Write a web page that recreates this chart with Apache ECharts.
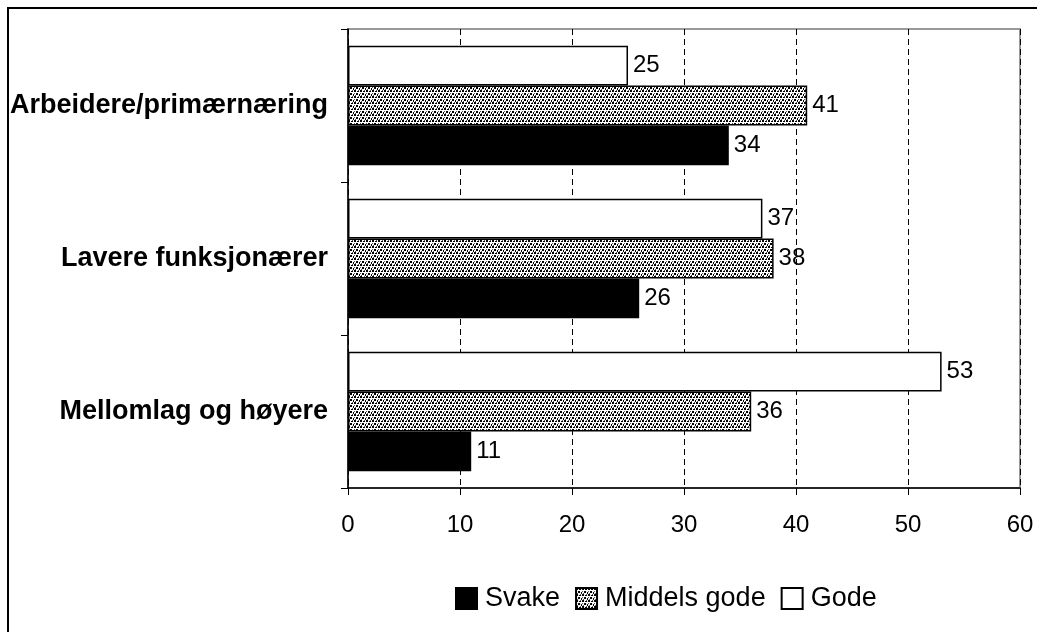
<!DOCTYPE html>
<html>
<head>
<meta charset="utf-8">
<script src="https://cdn.jsdelivr.net/npm/echarts@6/dist/echarts.min.js"></script>
<style>
    html, body { margin: 0; padding: 0; background: #fff; }
    #chart { width: 1037px; height: 632px; }
</style>
</head>
<body>
<div id="chart"></div>
<script>
// kategorier (nederst til øverst, slik ECharts tegner y-aksen)
var categories = ['Mellomlag og høyere', 'Lavere funksjonærer', 'Arbeidere/primærnæring'];
var seriesNames = ['Svake', 'Middels gode', 'Gode'];
var svake = [11, 26, 34];
var middels = [36, 38, 41];
var gode = [53, 37, 25];

// prikkemønster for "Middels gode"
function makePattern() {
    var c = document.createElement('canvas');
    c.width = 6;
    c.height = 6;
    var ctx = c.getContext('2d');
    ctx.fillStyle = '#fff';
    ctx.fillRect(0, 0, 6, 6);
    ctx.fillStyle = '#000';
    ctx.fillRect(0, 0, 2, 2);
    ctx.fillRect(3, 1, 2, 1);
    ctx.fillRect(2, 3, 2, 2);
    ctx.fillRect(5, 4, 1, 2);
    ctx.fillStyle = '#555';
    ctx.fillRect(4, 0, 1, 1);
    ctx.fillRect(0, 3, 1, 1);
    ctx.fillRect(1, 5, 1, 1);
    return c;
}

var pattern = {image: makePattern(), repeat: 'repeat'};
var font = '"Liberation Sans", Arial, sans-serif';

var labelStyle = {
    show: true,
    position: 'right',
    distance: 5,
    color: '#000',
    fontFamily: font,
    fontSize: 24
};

function makeSeries(name, data, fill) {
    return {
        name: name,
        type: 'bar',
        data: data,
        barGap: '0%',
        barCategoryGap: '22%',
        itemStyle: {
            color: fill,
            borderColor: '#000',
            borderWidth: 1.5
        },
        label: labelStyle
    };
}

var myChart = echarts.init(document.getElementById('chart'), null, {renderer: 'canvas'});

var option = {
    animation: false,
    backgroundColor: '#fff',
    grid: {
        left: 348,
        right: 17,
        top: 29,
        bottom: 144,
        show: true,
        borderColor: '#999',
        borderWidth: 2,
        backgroundColor: 'transparent'
    },
    graphic: [{
        type: 'rect',
        shape: {x: 8, y: 8, width: 1100, height: 700},
        style: {fill: 'none', stroke: '#000', lineWidth: 2},
        silent: true,
        z: 100
    }],
    legend: {
        top: 580,
        left: 450,
        itemWidth: 21,
        itemHeight: 21,
        itemGap: 15,
        icon: 'rect',
        textStyle: {fontFamily: font, fontSize: 27, color: '#000', padding: [0, 0, 0, 3]},
        data: seriesNames
    },
    xAxis: {
        type: 'value',
        min: 0,
        max: 60,
        interval: 10,
        axisLine: {show: true, lineStyle: {color: '#000', width: 1.5}},
        axisTick: {show: true, length: 7, lineStyle: {color: '#000'}},
        axisLabel: {fontFamily: font, fontSize: 24, color: '#000', margin: 25},
        splitLine: {show: true, lineStyle: {color: '#000', type: [6, 4], width: 1}}
    },
    yAxis: {
        type: 'category',
        data: categories,
        axisLine: {show: true, lineStyle: {color: '#000', width: 1.5}},
        axisTick: {show: true, length: 7, lineStyle: {color: '#000'}},
        axisLabel: {fontFamily: font, fontSize: 27, fontWeight: 'bold', color: '#000', margin: 20},
        splitLine: {show: false}
    },
    // ECharts legger første serie øverst i hvert bånd, så "Gode" kommer først
    series: [
        makeSeries(seriesNames[2], gode, '#fff'),
        makeSeries(seriesNames[1], middels, pattern),
        makeSeries(seriesNames[0], svake, '#000')
    ]
};

myChart.setOption(option);
</script>
</body>
</html>
